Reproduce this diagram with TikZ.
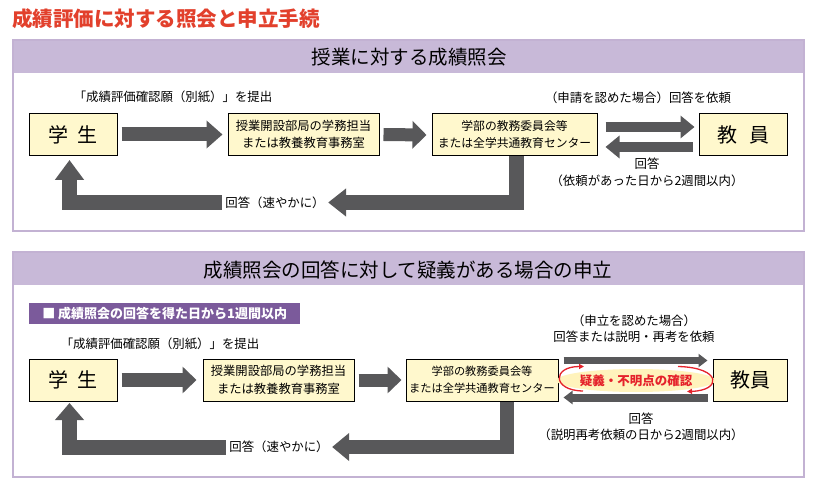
\documentclass[tikz,border=0pt]{standalone}
\usepackage{fontspec}
\setmainfont{Noto Sans CJK JP}
\usetikzlibrary{arrows.meta,shapes.geometric,calc}
\definecolor{titlered}{HTML}{E2402C}
\definecolor{bandpurple}{HTML}{C8B9D8}
\definecolor{panelline}{HTML}{C3B2D3}
\definecolor{tagpurple}{HTML}{7B5A9B}
\definecolor{boxfill}{HTML}{FFF8CD}
\definecolor{arrowgrey}{HTML}{58585A}
\definecolor{ellfill}{HTML}{FFF3BC}
\definecolor{alertred}{HTML}{E5222B}
\begin{document}
\begin{tikzpicture}[x=1pt,y=-1pt,
  box/.style={draw=black, line width=1pt, fill=boxfill, inner sep=0pt, align=center, text=black},
  bigbox/.style={box, minimum height=42pt, font=\fontsize{20}{22}\selectfont},
  midbox/.style={box, minimum height=42pt},
  lbl/.style={align=center, font=\fontsize{12.4}{16.5}\selectfont, text=black},
  hdr/.style={font=\fontsize{19.5}{21}\selectfont, text=black},
  fat/.style={draw=arrowgrey, line width=#1, line join=miter, line cap=butt},
  redarc/.style={draw=alertred, line width=1.3pt, -{Triangle[length=5pt,width=5pt]}}]
\useasboundingbox (0,0) rectangle (819,486);
\fill[white] (0,0) rectangle (819,486);

% title
\node[anchor=west, text=titlered, font=\bfseries\fontsize{20.5}{22}\selectfont, inner sep=0pt] (title) at (12,19) {成績評価に対する照会と申立手続};

% ---------- panel 1 ----------
\fill[bandpurple] (13,40) rectangle (804,73);
\draw[panelline, line width=2pt] (13,40) rectangle (804,231);
\node[hdr] (h1) at (409,57) {授業に対する成績照会};

\node[lbl] (l1a) at (173,97) {「成績評価確認願（別紙）」を提出};
\node[bigbox, minimum width=88pt] (s1) at (73,134.5) {学\hspace{0.45em}生};
\node[midbox, minimum width=151pt, font=\fontsize{12.3}{17.5}\selectfont] (a1) at (303.5,134.5) {授業開設部局の学務担当\\または教養教育事務室};
\node[midbox, minimum width=165pt, font=\fontsize{11.8}{17}\selectfont] (c1) at (514.5,135) {学部の教務委員会等\\または全学共通教育センター};
\node[bigbox, minimum width=88pt] (t1) at (743,135) {教\hspace{0.6em}員};

\node[lbl] (l1b) at (638,98) {（申請を認めた場合）回答を依頼};
\node[lbl] (l1c) at (647,172.5) {回答\\（依頼があった日から2週間以内）};

\draw[fat=14pt, -{Triangle[length=16pt,width=27pt]}] ([xshift=4pt]s1.east) -- ([xshift=-5pt]a1.west);
\draw[fat=13pt, -{Triangle[length=14pt,width=27pt]}] ([xshift=4pt]a1.east) -- ([xshift=-5pt]c1.west);
\draw[fat=10pt, -{Triangle[length=14pt,width=22pt]}] ([xshift=8pt,yshift=8pt]c1.east) -- ([xshift=-4pt,yshift=8pt]t1.west);
\draw[fat=10pt, -{Triangle[length=14pt,width=22pt]}] ([xshift=-6pt,yshift=-12pt]t1.west) -- ([xshift=8pt,yshift=-12pt]c1.east);

\node[lbl] (r1) at (275,203) {回答（速やかに）};
\coordinate (k1) at (516.5,202.5);
\coordinate (j1) at (69.5,202.5);
\coordinate (u1) at (69.5,160);
\draw[fat=15pt, -{Triangle[length=18pt,width=27pt]}] (c1.south -| k1) -- (k1) -- (r1.east |- k1);
\draw[fat=15pt, -{Triangle[length=20pt,width=28pt]}] (r1.west |- j1) -- (j1) -- (u1);

% ---------- panel 2 ----------
\fill[bandpurple] (13,252) rectangle (804,285);
\draw[panelline, line width=2pt] (13,252) rectangle (804,477);
\node[hdr] (h2) at (408,270) {成績照会の回答に対して疑義がある場合の申立};

\node[anchor=west, fill=tagpurple, text=white, minimum width=271pt, minimum height=21pt, inner sep=0pt,
      font=\bfseries\fontsize{13}{14}\selectfont] (tag) at (29,313.5) {■ 成績照会の回答を得た日から1週間以内};

\node[lbl] (l2a) at (160,344) {「成績評価確認願（別紙）」を提出};
\node[bigbox, minimum width=88pt] (s2) at (73,380) {学\hspace{0.45em}生};
\node[midbox, minimum width=151pt, font=\fontsize{12.3}{17.5}\selectfont] (a2) at (278.5,380) {授業開設部局の学務担当\\または教養教育事務室};
\node[midbox, minimum width=152pt, font=\fontsize{11.2}{17}\selectfont] (c2) at (482,380) {学部の教務委員会等\\または全学共通教育センター};
\node[bigbox, minimum width=74pt] (t2) at (750,380) {教員};

\node[lbl] (l2b) at (634,328.5) {（申立を認めた場合）\\回答または説明・再考を依頼};
\node[lbl] (l2c) at (641,427) {回答\\（説明再考依頼の日から2週間以内）};

\draw[fat=14pt, -{Triangle[length=14pt,width=26pt]}] ([xshift=4pt]s2.east) -- ([xshift=-6pt]a2.west);
\draw[fat=13pt, -{Triangle[length=14pt,width=26pt]}] ([xshift=4pt]a2.east) -- ([xshift=-4pt]c2.west);
\draw[fat=7pt, -{Triangle[length=9pt,width=13pt]}] ([xshift=5pt,yshift=19.5pt]c2.east) -- ([xshift=-5pt,yshift=19.5pt]t2.west);
\draw[fat=8pt, -{Triangle[length=9pt,width=13pt]}] ([xshift=-5pt,yshift=-17.5pt]t2.west) -- ([xshift=5pt,yshift=-17.5pt]c2.east);

\node[ellipse, fill=ellfill, minimum width=150pt, minimum height=23pt, inner sep=0pt,
      text=alertred, font=\bfseries\fontsize{12.5}{13}\selectfont] (el) at (636,380.5) {疑義・不明点の確認};
\draw[redarc] ($(el.center)+(-53,10.5)$) .. controls ($(el.center)+(-84,10)$) and ($(el.center)+(-84,-14)$) .. ($(el.center)+(-52,-14)$);
\draw[redarc] ($(el.center)+(42,-14)$) .. controls ($(el.center)+(86,-13)$) and ($(el.center)+(86,10)$) .. ($(el.center)+(51,11)$);

\node[lbl] (r2) at (279,447) {回答（速やかに）};
\coordinate (k2) at (506.5,447);
\coordinate (j2) at (69.5,447);
\coordinate (u2) at (69.5,403);
\draw[fat=14pt, -{Triangle[length=17pt,width=27pt]}] (c2.south -| k2) -- (k2) -- (r2.east |- k2);
\draw[fat=15pt, -{Triangle[length=17pt,width=28pt]}] (r2.west |- j2) -- (j2) -- (u2);
\end{tikzpicture}
\end{document}
